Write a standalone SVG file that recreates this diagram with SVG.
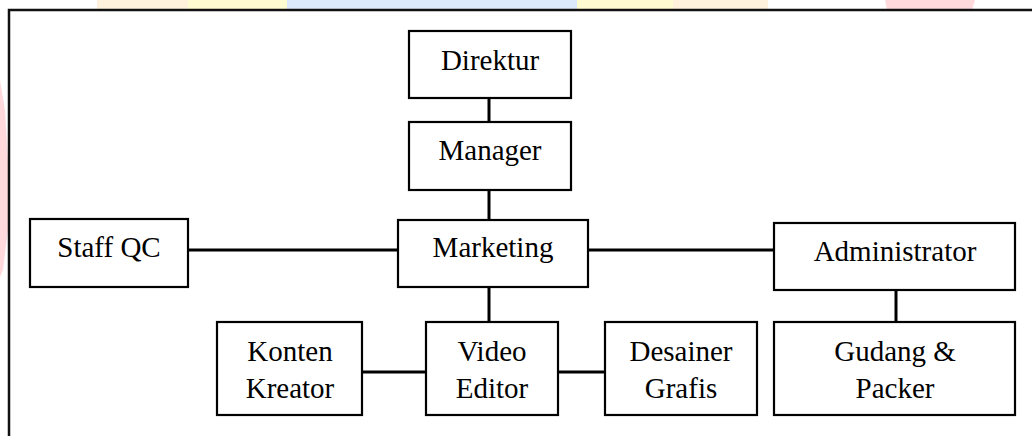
<svg xmlns="http://www.w3.org/2000/svg" width="1032" height="436" viewBox="0 0 1032 436">
  <style>
    .box { fill: #ffffff; stroke: #000000; stroke-width: 2.2; }
    .lbl { font-family: "Liberation Serif", "Times New Roman", serif; font-size: 29px; fill: #000000; text-anchor: middle; }
    .link { stroke: #000000; stroke-width: 3; fill: none; }
  </style>

  <!-- page background with faint coloured logo bands -->
  <rect x="0" y="0" width="1032" height="436" fill="#ffffff"/>
  <g id="backdrop">
    <rect x="97" y="0" width="91" height="10" fill="#fff1dc"/>
    <rect x="188" y="0" width="99" height="10" fill="#fffbd0"/>
    <rect x="287" y="0" width="290" height="10" fill="#dce8fb"/>
    <rect x="577" y="0" width="96" height="10" fill="#fffbd0"/>
    <rect x="673" y="0" width="95" height="10" fill="#fff1dc"/>
    <polygon points="885,0 975,0 972,10 887,10" fill="#ffd9dc"/>
    <polygon points="0,80 5,110 8,160 8,230 3,270 0,277" fill="#ffd9dc"/>
  </g>

  <!-- outer frame, open to the right and bottom -->
  <path id="frame" d="M9,436 V10 H1032" fill="none" stroke="#111111" stroke-width="2.5"/>

  <!-- connectors -->
  <g id="connectors">
    <line class="link" x1="489" y1="98" x2="489" y2="122"/>
    <line class="link" x1="489" y1="190" x2="489" y2="220"/>
    <line class="link" x1="188" y1="250" x2="398" y2="250"/>
    <line class="link" x1="588" y1="250" x2="774" y2="250"/>
    <line class="link" x1="489" y1="287" x2="489" y2="322"/>
    <line class="link" x1="896" y1="290" x2="896" y2="322"/>
    <line class="link" x1="362" y1="372" x2="426" y2="372"/>
    <line class="link" x1="558" y1="372" x2="605" y2="372"/>
  </g>

  <g id="direktur">
    <rect class="box" x="409" y="31" width="162" height="67"/>
    <text class="lbl" x="490" y="70">Direktur</text>
  </g>
  <g id="manager">
    <rect class="box" x="409" y="122" width="162" height="68"/>
    <text class="lbl" x="490" y="160">Manager</text>
  </g>
  <g id="staff-qc">
    <rect class="box" x="30" y="219" width="158" height="68"/>
    <text class="lbl" x="109" y="257">Staff QC</text>
  </g>
  <g id="marketing">
    <rect class="box" x="398" y="220" width="190" height="67"/>
    <text class="lbl" x="493" y="257">Marketing</text>
  </g>
  <g id="administrator">
    <rect class="box" x="774" y="223" width="241" height="67"/>
    <text class="lbl" x="895" y="261">Administrator</text>
  </g>
  <g id="konten-kreator">
    <rect class="box" x="217" y="322" width="145" height="93"/>
    <text class="lbl" x="290" y="361">Konten</text>
    <text class="lbl" x="290" y="398">Kreator</text>
  </g>
  <g id="video-editor">
    <rect class="box" x="426" y="322" width="132" height="93"/>
    <text class="lbl" x="492" y="361">Video</text>
    <text class="lbl" x="492" y="398">Editor</text>
  </g>
  <g id="desainer-grafis">
    <rect class="box" x="605" y="322" width="152" height="93"/>
    <text class="lbl" x="681" y="361">Desainer</text>
    <text class="lbl" x="681" y="398">Grafis</text>
  </g>
  <g id="gudang-packer">
    <rect class="box" x="774" y="322" width="241" height="93"/>
    <text class="lbl" x="895" y="361">Gudang &amp;</text>
    <text class="lbl" x="895" y="398">Packer</text>
  </g>
</svg>
